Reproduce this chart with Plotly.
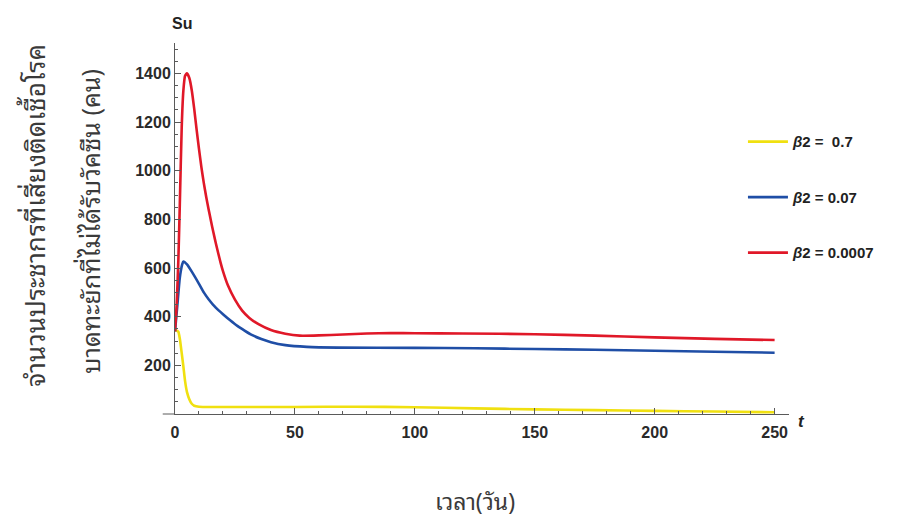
import plotly.graph_objects as go

# Susceptible unvaccinated population Su(t) for three values of beta2
t_yellow = [0, 0.7, 1.4, 2, 2.8, 3.5, 4.2, 5, 6, 7, 8, 10, 20, 35, 50, 75, 100, 125, 150, 175, 200, 225, 250]
su_yellow = [345, 343, 338, 310, 250, 195, 135, 90, 60, 42, 34, 30, 29, 29, 29, 30, 28, 23, 19, 16, 13, 10, 7]

t_blue = [0, 1, 2, 3, 3.5, 5, 7, 10, 12, 14, 17, 20, 23, 26, 29, 32, 36, 40, 46, 55, 68,
          100, 125, 150, 175, 200, 225, 250]
su_blue = [340, 450, 560, 615, 627, 615, 585, 535, 500, 472, 437, 410, 385, 362, 343, 325, 308, 295, 283, 276, 273,
           272, 270, 267, 264, 260, 256, 252]

t_red = [0, 0.7, 1.4, 2, 2.8, 3.5, 4.2, 5, 6, 7, 8, 9, 10, 11, 12, 13, 14, 15, 16, 17, 18, 19, 20, 22, 25, 28,
         31, 35, 40, 46, 52, 60, 70, 80, 90, 100, 120, 150, 175, 200, 225, 250]
su_red = [340, 450, 634, 860, 1180, 1330, 1390, 1400, 1380, 1330, 1255, 1170, 1090, 1015, 950, 893, 842, 793,
          747, 703, 662, 622, 587, 530, 470, 425, 395, 368, 345, 330, 322, 323, 327, 331, 333, 332, 331, 328,
          322, 315, 309, 304]

series_names = ["<i>β</i>2 =  0.7", "<i>β</i>2 = 0.07", "<i>β</i>2 = 0.0007"]
series_colors = ["#f0e010", "#1f4ea6", "#e01828"]

x_ticks = [0, 50, 100, 150, 200, 250]
y_ticks = [200, 400, 600, 800, 1000, 1200, 1400]

y_title_1 = "จำนวนประชากรที่เสี่ยงติดเชื้อโรค"
y_title_2 = "บาดทะยักที่ไม่ได้รับวัคซีน (คน)"
x_title = "เวลา(วัน)"

thai_font = "Noto Sans Thai Looped, Noto Sans Thai, Loma, Garuda, Tlwg Typo, Noto Sans, sans-serif"
latin = "Liberation Sans, Arial, sans-serif"
num_font = dict(family=latin, size=16, color="#2a2a2a", weight="bold")

fig = go.Figure()
for i, (tx, sy) in enumerate([(t_yellow, su_yellow), (t_blue, su_blue), (t_red, su_red)]):
    fig.add_trace(go.Scatter(
        x=tx, y=sy, mode="lines", name=series_names[i],
        line=dict(color=series_colors[i], width=2.6, shape="spline", smoothing=0.5),
        legendgroup=str(i),
    ))

axis_color = "#5a5a5a"
fig.update_layout(
    width=902, height=520,
    margin=dict(l=175, r=113, t=43, b=106),
    paper_bgcolor="white", plot_bgcolor="white",
    showlegend=True,
    legend=dict(
        x=0.925, y=0.778, xanchor="left", yanchor="top",
        font=dict(family=latin, size=15, color="#222", weight="bold"),
        tracegroupgap=33, itemwidth=40, bgcolor="rgba(0,0,0,0)",
    ),
    xaxis=dict(
        range=[0, 256], showgrid=False, zeroline=False,
        showline=True, linecolor=axis_color, linewidth=1,
        tickvals=x_ticks, ticks="inside", ticklen=6, tickcolor=axis_color,
        minor=dict(dtick=10, ticks="inside", ticklen=3, tickcolor=axis_color),
        tickfont=num_font, ticklabelstandoff=4,
    ),
    yaxis=dict(
        range=[0, 1525], showgrid=False, zeroline=False,
        showline=True, linecolor=axis_color, linewidth=1,
        tickvals=y_ticks, ticks="inside", ticklen=6, tickcolor=axis_color,
        minor=dict(dtick=50, ticks="inside", ticklen=3, tickcolor=axis_color),
        tickfont=num_font,
    ),
)

# axis extension past the origin
fig.add_shape(type="line", xref="paper", yref="paper", x0=-0.02, x1=0, y0=0, y1=0,
              line=dict(color=axis_color, width=1))

fig.add_annotation(text="<b>Su</b>", xref="paper", yref="paper", x=-0.008, y=1.082,
                   showarrow=False, font=dict(family=latin, size=16, color="#222"))
fig.add_annotation(text="<b><i>t</i></b>", xref="paper", yref="paper", x=1.029, y=-0.05,
                   showarrow=False, font=dict(family=latin, size=17, color="#222"))
fig.add_annotation(text=y_title_1, xref="paper", yref="paper", x=-0.27, y=0.535, textangle=-90,
                   showarrow=False, font=dict(family=thai_font, size=26, color="#3a3a3a"))
fig.add_annotation(text=y_title_2, xref="paper", yref="paper", x=-0.175, y=0.52, textangle=-90,
                   showarrow=False, font=dict(family=thai_font, size=25, color="#3a3a3a"))
fig.add_annotation(text=x_title, xref="paper", yref="paper", x=0.489, y=-0.285,
                   showarrow=False, font=dict(family=thai_font, size=23, color="#3a3a3a"))

fig.write_html("out.html")
